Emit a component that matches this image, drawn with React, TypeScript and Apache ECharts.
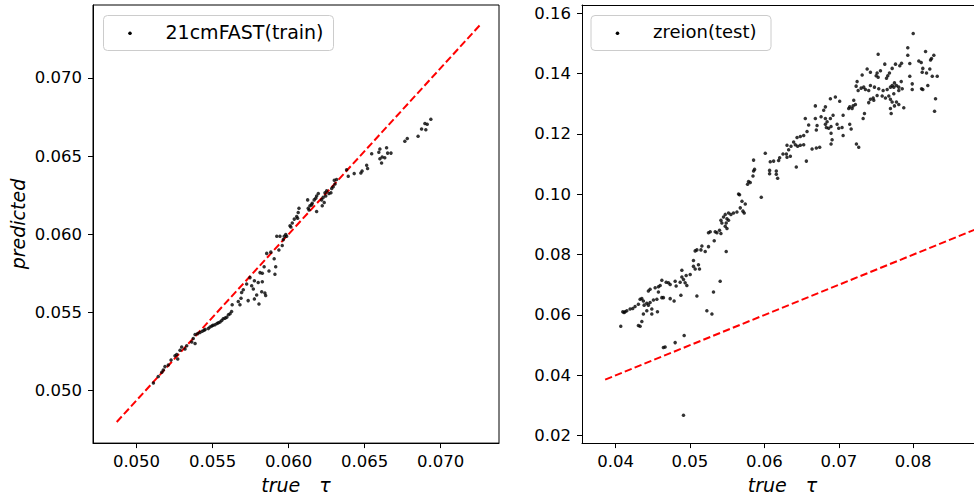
import React, { useEffect, useRef } from "react";
import * as echarts from "echarts";

// 21cmFAST training set: true optical depth vs network prediction
const trainTrue = [
  0.06935, 0.06896, 0.06911, 0.06874, 0.06902, 0.06851, 0.0678, 0.06764, 0.066, 0.06593,
  0.06644, 0.06651, 0.06673, 0.06615, 0.066, 0.06632, 0.06611, 0.06546, 0.06513, 0.06519,
  0.06483, 0.06475, 0.06431, 0.06392, 0.06381, 0.06315, 0.063, 0.06305, 0.06293, 0.06283,
  0.06278, 0.06265, 0.0625, 0.06239, 0.06244, 0.06227, 0.06217, 0.06221, 0.06234, 0.06195,
  0.06184, 0.06178, 0.06168, 0.06155, 0.06151, 0.0614, 0.06129, 0.06125, 0.06134, 0.06184,
  0.06068, 0.06063, 0.06053, 0.06059, 0.06037, 0.06024, 0.06009, 0.06015, 0.05981, 0.05971,
  0.05987, 0.05943, 0.05922, 0.05965, 0.05958, 0.05936, 0.05905, 0.05883, 0.05856, 0.05915,
  0.05839, 0.05871, 0.05827, 0.05812, 0.0591, 0.05746, 0.05775, 0.058, 0.05827, 0.05724,
  0.05757, 0.05768, 0.05702, 0.05691, 0.05823, 0.05844, 0.05849, 0.0579, 0.05775, 0.05734,
  0.05687, 0.05669, 0.0568, 0.05629, 0.05805, 0.05625, 0.05615, 0.05604, 0.05593, 0.05582,
  0.0557, 0.0556, 0.05549, 0.05538, 0.05516, 0.05495, 0.05483, 0.05472, 0.05451, 0.05432,
  0.05417, 0.05402, 0.05385, 0.05373, 0.05385, 0.05363, 0.0533, 0.05319, 0.05297, 0.05286,
  0.05264, 0.05253, 0.05271, 0.05227, 0.05209, 0.05187, 0.05176, 0.05111, 0.05143, 0.05166,
  0.05444, 0.05503, 0.05529,
];
const trainPred = [
  0.06736, 0.06709, 0.06704, 0.06673, 0.06669, 0.06627, 0.06612, 0.06595, 0.06546, 0.06525,
  0.06553, 0.06519, 0.06519, 0.06494, 0.06483, 0.06489, 0.06456, 0.06515, 0.06441, 0.0642,
  0.06405, 0.06392, 0.06388, 0.06371, 0.06413, 0.0635, 0.06346, 0.06321, 0.06304, 0.06293,
  0.06266, 0.06261, 0.06278, 0.06266, 0.06245, 0.06236, 0.0622, 0.06182, 0.06203, 0.06261,
  0.06245, 0.0623, 0.0622, 0.06198, 0.06188, 0.06182, 0.06166, 0.0622, 0.06156, 0.06146,
  0.06166, 0.06139, 0.06114, 0.06103, 0.06097, 0.06072, 0.06055, 0.06046, 0.05998, 0.05987,
  0.05987, 0.05987, 0.05987, 0.05966, 0.05928, 0.05899, 0.05844, 0.05886, 0.05878, 0.05793,
  0.05793, 0.05766, 0.05751, 0.05755, 0.05745, 0.05723, 0.05703, 0.05692, 0.05696, 0.05682,
  0.05671, 0.0565, 0.05646, 0.05628, 0.05633, 0.05625, 0.05608, 0.05612, 0.05587, 0.05576,
  0.05591, 0.0557, 0.05549, 0.05549, 0.05555, 0.05506, 0.05492, 0.05485, 0.0547, 0.05464,
  0.0546, 0.05449, 0.05439, 0.05435, 0.05422, 0.05413, 0.05407, 0.05397, 0.05392, 0.0538,
  0.05372, 0.05365, 0.05359, 0.05334, 0.05302, 0.05312, 0.05287, 0.05266, 0.0528, 0.05259,
  0.05232, 0.05223, 0.05203, 0.05196, 0.05165, 0.05154, 0.05133, 0.05049, 0.05091, 0.05118,
  0.05386, 0.05418, 0.0543,
];

// zreion test set: true optical depth vs network prediction
const testTrue = [
  0.08, 0.07529, 0.07927, 0.07927, 0.08166, 0.08075, 0.08108, 0.08129, 0.08223, 0.08277,
  0.08246, 0.08233, 0.08179, 0.08121, 0.08256, 0.08323, 0.083, 0.08287, 0.08196, 0.08112,
  0.08129, 0.07987, 0.07987, 0.07954, 0.07954, 0.07843, 0.0782, 0.07762, 0.07717, 0.07681,
  0.07658, 0.07641, 0.07618, 0.0756, 0.07515, 0.07529, 0.07502, 0.07425, 0.07381, 0.07314,
  0.07246, 0.07233, 0.0726, 0.073, 0.07335, 0.07358, 0.07402, 0.07425, 0.07479, 0.07537,
  0.07596, 0.0765, 0.07694, 0.07717, 0.07739, 0.07748, 0.07775, 0.07806, 0.07839, 0.07852,
  0.07806, 0.07739, 0.07672, 0.07627, 0.07583, 0.07515, 0.07462, 0.07425, 0.07402, 0.0747,
  0.07694, 0.07717, 0.07775, 0.07748, 0.07806, 0.07873, 0.07694, 0.07704, 0.07327, 0.07345,
  0.07201, 0.07192, 0.07147, 0.07179, 0.07133, 0.07223, 0.07058, 0.07012, 0.06954, 0.06887,
  0.0682, 0.06797, 0.06685, 0.06923, 0.06887, 0.06843, 0.0682, 0.06833, 0.06864, 0.06896,
  0.06977, 0.06999, 0.07044, 0.0682, 0.06708, 0.06698, 0.06595, 0.0655, 0.06685, 0.06762,
  0.06573, 0.06528, 0.06483, 0.06439, 0.06393, 0.06416, 0.06447, 0.06483, 0.06528, 0.06358,
  0.06304, 0.06326, 0.06295, 0.06304, 0.06349, 0.0625, 0.06205, 0.06191, 0.06124, 0.06079,
  0.06012, 0.0607, 0.0607, 0.0616, 0.0616, 0.06178, 0.05855, 0.05868, 0.05855, 0.05847,
  0.05787, 0.0581, 0.05774, 0.06564, 0.06429, 0.06698, 0.06743, 0.06641, 0.06896, 0.0691,
  0.06896, 0.07058, 0.07147, 0.07166, 0.07237, 0.07268, 0.05653, 0.05666, 0.05958, 0.05699,
  0.05743, 0.05676, 0.05712, 0.05729, 0.05631, 0.05585, 0.0555, 0.05518, 0.05474, 0.05451,
  0.05497, 0.05416, 0.05429, 0.05487, 0.05518, 0.05474, 0.05497, 0.05397, 0.05416, 0.05362,
  0.05339, 0.05272, 0.05249, 0.05326, 0.05249, 0.0516, 0.05147, 0.05205, 0.05093, 0.0507,
  0.05487, 0.05047, 0.05114, 0.05128, 0.0507, 0.05047, 0.04891, 0.04949, 0.05003, 0.04891,
  0.04913, 0.04935, 0.04958, 0.04801, 0.04868, 0.04814, 0.04711, 0.04734, 0.0468, 0.04622,
  0.04599, 0.04576, 0.04532, 0.04464, 0.04441, 0.04576, 0.04622, 0.04555, 0.04509, 0.04464,
  0.0442, 0.04374, 0.04353, 0.0433, 0.04384, 0.04441, 0.04307, 0.04262, 0.04231, 0.04195,
  0.04151, 0.04128, 0.04114, 0.04097, 0.04374, 0.04487, 0.04487, 0.0442, 0.04563, 0.04643,
  0.04734, 0.04787, 0.04878, 0.05093, 0.05316, 0.05406, 0.05227, 0.05295, 0.0407, 0.04307,
  0.0433, 0.04353, 0.04801, 0.04922, 0.04643, 0.04666, 0.04913,
];
const testPred = [
  0.15324, 0.14637, 0.14856, 0.14605, 0.14726, 0.14418, 0.14366, 0.1417, 0.14147, 0.14605,
  0.14497, 0.14451, 0.14016, 0.14039, 0.13909, 0.13909, 0.13167, 0.12752, 0.13601, 0.13494,
  0.13471, 0.13657, 0.13471, 0.13909, 0.14333, 0.14343, 0.14255, 0.14311, 0.1417, 0.14016,
  0.13928, 0.13843, 0.14311, 0.14092, 0.14016, 0.13876, 0.13928, 0.14039, 0.14147, 0.13951,
  0.13732, 0.13582, 0.13438, 0.13516, 0.13549, 0.13471, 0.13438, 0.13601, 0.13549, 0.13494,
  0.13438, 0.13471, 0.13549, 0.13601, 0.13549, 0.1369, 0.13601, 0.13549, 0.13732, 0.13494,
  0.13438, 0.1333, 0.13255, 0.1319, 0.13255, 0.13275, 0.1319, 0.13144, 0.13036, 0.13111,
  0.13144, 0.13059, 0.13059, 0.12928, 0.12971, 0.12863, 0.1284, 0.12677, 0.12513, 0.12677,
  0.13111, 0.12928, 0.12895, 0.1284, 0.1284, 0.12971, 0.12621, 0.13078, 0.13222, 0.13167,
  0.12895, 0.12784, 0.12928, 0.12621, 0.12513, 0.12405, 0.12317, 0.12209, 0.12186, 0.12242,
  0.12317, 0.12186, 0.12209, 0.12513, 0.12275, 0.12131, 0.12294, 0.12513, 0.12513, 0.12569,
  0.12078, 0.11948, 0.11915, 0.11882, 0.11729, 0.11641, 0.11588, 0.11621, 0.11641, 0.11588,
  0.11621, 0.11477, 0.11337, 0.11229, 0.11261, 0.11337, 0.11206, 0.11118, 0.11098, 0.11075,
  0.1136, 0.10791, 0.10683, 0.10771, 0.1066, 0.10529, 0.11131, 0.10824, 0.10771, 0.10608,
  0.10422, 0.10389, 0.10333, 0.11098, 0.10902, 0.11533, 0.11556, 0.115, 0.11663, 0.11804,
  0.12023, 0.11948, 0.12317, 0.12163, 0.11663, 0.11556, 0.10007, 0.09987, 0.09899, 0.09768,
  0.0968, 0.09549, 0.09441, 0.09376, 0.09409, 0.09376, 0.09333, 0.09376, 0.09333, 0.09245,
  0.0919, 0.09137, 0.09049, 0.09049, 0.09137, 0.08941, 0.08863, 0.0881, 0.08699, 0.08722,
  0.08755, 0.08755, 0.08722, 0.08461, 0.08265, 0.08288, 0.08157, 0.08101, 0.08157, 0.08124,
  0.08101, 0.07807, 0.07667, 0.07523, 0.07523, 0.07611, 0.0748, 0.07307, 0.0734, 0.07261,
  0.07176, 0.07065, 0.0698, 0.07121, 0.07088, 0.06958, 0.07065, 0.07013, 0.07088, 0.07154,
  0.0698, 0.06935, 0.06902, 0.0685, 0.06794, 0.06761, 0.06575, 0.06523, 0.065, 0.06412,
  0.06392, 0.06467, 0.06542, 0.06523, 0.06327, 0.06327, 0.06359, 0.06281, 0.06216, 0.06196,
  0.06141, 0.06108, 0.06085, 0.06108, 0.06033, 0.06196, 0.06033, 0.06141, 0.06108, 0.06575,
  0.06542, 0.06467, 0.06654, 0.06631, 0.06761, 0.07121, 0.06141, 0.06033, 0.05627, 0.0565,
  0.05627, 0.05781, 0.05085, 0.05324, 0.04922, 0.04941, 0.02676,
];

// red dashed reference segments (end points)
const trainLineTrue = [0.0487, 0.0726];
const trainLinePred = [0.048, 0.0734];
const testLine = [0.0386, 0.09];

// axis ranges and tick positions
const trainXRange = [0.04714, 0.07383];
const trainYRange = [0.04665, 0.07466];
const trainTicks = [0.05, 0.055, 0.06, 0.065, 0.07];
const testXRange = [0.03549, 0.08817];
const testYRange = [0.01756, 0.1627];
const testXTicks = [0.04, 0.05, 0.06, 0.07, 0.08];
const testYTicks = [0.02, 0.04, 0.06, 0.08, 0.1, 0.12, 0.14, 0.16];

const trainLabel = "21cmFAST(train)";
const testLabel = "zreion(test)";

const FONT = "DejaVu Sans";

function makeAxis(
  gridIndex: number,
  range: number[],
  ticks: number[],
  digits: number,
  labelMargin: number,
  extra: Record<string, unknown> = {}
) {
  return {
    type: "value",
    gridIndex,
    min: range[0],
    max: range[1],
    axisLine: { show: true, onZero: false, lineStyle: { color: "#000", width: 1 } },
    axisTick: {
      show: true,
      inside: false,
      length: 5,
      customValues: ticks,
      lineStyle: { color: "#000", width: 1 },
    },
    axisLabel: {
      show: true,
      customValues: ticks,
      formatter: (v: number) => v.toFixed(digits),
      color: "#000",
      fontSize: 16.5,
      fontFamily: FONT,
      margin: labelMargin,
    },
    splitLine: { show: false },
    nameTextStyle: {
      fontStyle: "italic",
      fontSize: 19,
      fontFamily: FONT,
      color: "#000",
    },
    ...extra,
  };
}

// boxed legend entry: frame, marker dot and label
function legendGraphic(label: string, left: number, width: number, fontSize: number) {
  return {
    type: "group",
    silent: true,
    z: 100,
    children: [
      {
        type: "rect",
        shape: { x: left + 0.5, y: 15.5, width, height: 35, r: 4 },
        style: { fill: "rgba(255,255,255,0.8)", stroke: "#cccccc", lineWidth: 1 },
      },
      {
        type: "circle",
        shape: { cx: left + 27, cy: 33.3, r: 1.8 },
        style: { fill: "#000" },
      },
      {
        type: "text",
        x: left + 62.5,
        y: 31.5,
        style: {
          text: label,
          fill: "#000",
          font: `${fontSize}px "${FONT}"`,
          verticalAlign: "middle",
          align: "left",
        },
      },
    ],
  };
}

export default function App() {
  const ref = useRef<HTMLDivElement>(null);

  useEffect(() => {
    if (!ref.current) return;
    const chart = echarts.init(ref.current, undefined, { renderer: "svg" });

    const trainPoints = trainTrue.map((x, i) => [x, trainPred[i]]);
    const testPoints = testTrue.map((x, i) => [x, testPred[i]]);
    const trainLine = trainLineTrue.map((x, i) => [x, trainLinePred[i]]);
    const testDiag = testLine.map((v) => [v, v]);

    const dashed = { color: "#ff0000", width: 2, type: [7.4, 3.2] };

    chart.setOption({
      animation: false,
      backgroundColor: "#fff",
      textStyle: { fontFamily: FONT },
      grid: [
        { left: 93, width: 406, top: 5, bottom: 50, show: true, borderColor: "#000", borderWidth: 1 },
        // right panel runs past the page edge, so only its left, top and bottom edges are drawn
        { left: 582, right: 0, top: 5, bottom: 50, show: false },
      ],
      xAxis: [
        makeAxis(0, trainXRange, trainTicks, 3, 10, {
          name: "true\u2003\u03c4",
          nameLocation: "middle",
          nameGap: 30,
        }),
        makeAxis(1, testXRange, testXTicks, 2, 10, {
          name: "true\u2003\u03c4",
          nameLocation: "middle",
          nameGap: 30,
          nameTextStyle: {
            fontStyle: "italic",
            fontSize: 19,
            fontFamily: FONT,
            color: "#000",
            padding: [0, 0, 0, 9],
          },
        }),
        {
          type: "value",
          gridIndex: 1,
          position: "top",
          min: testXRange[0],
          max: testXRange[1],
          axisLine: { show: true, onZero: false, lineStyle: { color: "#000", width: 1 } },
          axisTick: { show: false },
          axisLabel: { show: false },
          splitLine: { show: false },
        },
      ],
      yAxis: [
        makeAxis(0, trainYRange, trainTicks, 3, 11, {
          name: "predicted",
          nameLocation: "middle",
          nameRotate: 90,
          nameGap: 66,
        }),
        makeAxis(1, testYRange, testYTicks, 2, 11),
      ],
      graphic: [
        legendGraphic(trainLabel, 103, 230, 19),
        legendGraphic(testLabel, 590.5, 180, 18),
      ],
      series: [
        {
          name: trainLabel,
          type: "scatter",
          xAxisIndex: 0,
          yAxisIndex: 0,
          data: trainPoints,
          symbol: "circle",
          symbolSize: 3.5,
          itemStyle: { color: "#000" },
          z: 3,
        },
        {
          name: "train reference",
          type: "line",
          xAxisIndex: 0,
          yAxisIndex: 0,
          data: trainLine,
          showSymbol: false,
          symbol: "none",
          lineStyle: dashed,
          clip: true,
          z: 2,
        },
        {
          name: testLabel,
          type: "scatter",
          xAxisIndex: 1,
          yAxisIndex: 1,
          data: testPoints,
          symbol: "circle",
          symbolSize: 3.5,
          itemStyle: { color: "#000" },
          z: 3,
        },
        {
          name: "test reference",
          type: "line",
          xAxisIndex: 1,
          yAxisIndex: 1,
          data: testDiag,
          showSymbol: false,
          symbol: "none",
          lineStyle: dashed,
          clip: true,
          z: 2,
        },
      ],
    });

    return () => chart.dispose();
  }, []);

  return (
    <div
      ref={ref}
      style={{ position: "fixed", left: 0, top: 0, width: 974, height: 499, background: "#fff" }}
    />
  );
}
